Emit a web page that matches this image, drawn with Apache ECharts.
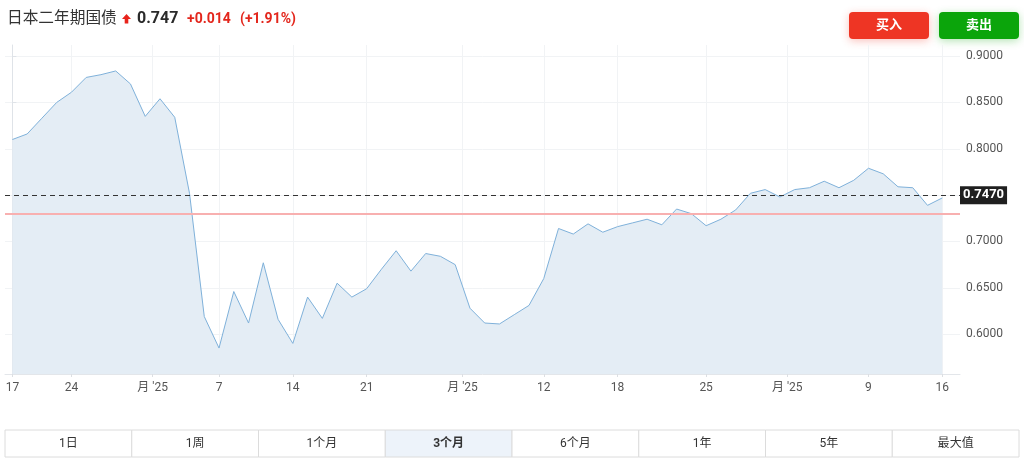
<!DOCTYPE html>
<html>
<head>
<meta charset="utf-8">
<script src="https://cdn.jsdelivr.net/npm/echarts@6/dist/echarts.min.js"></script>
<style>
html,body{margin:0;padding:0;background:#fff;}
#c{width:1024px;height:461px;}
</style>
</head>
<body>
<div id="c"></div>
<script>
// ---- data ----
const titleText = '日本二年期国债';
const lastPrice = '0.747';
const changeText = '+0.014';
const changePct = '(+1.91%)';
const values = [
  0.810, 0.816, 0.833, 0.850, 0.861, 0.877, 0.880, 0.884, 0.870, 0.835,
  0.854, 0.834, 0.752, 0.619, 0.585, 0.646, 0.612, 0.677, 0.616, 0.590,
  0.640, 0.617, 0.655, 0.640, 0.649, 0.670, 0.690, 0.668, 0.687, 0.684,
  0.675, 0.628, 0.612, 0.611, 0.621, 0.631, 0.660, 0.714, 0.708, 0.719,
  0.710, 0.716, 0.720, 0.724, 0.718, 0.735, 0.730, 0.717, 0.724, 0.734,
  0.752, 0.756, 0.748, 0.756, 0.758, 0.765, 0.758, 0.766, 0.779, 0.773,
  0.759, 0.758, 0.739, 0.747
];
const xTickPos = [0, 4, 9.5, 14, 19, 24, 30.5, 36, 41, 47, 52.5, 58, 63];
const xTickLabels = ['17', '24', "月 '25", '7', '14', '21', "月 '25", '12', '18', '25', "月 '25", '9', '16'];
const yTicks = [0.6, 0.65, 0.7, 0.75, 0.8, 0.85, 0.9];
const currentValue = 0.747;
const prevClose = 0.733;
const tabLabels = ['1日', '1周', '1个月', '3个月', '6个月', '1年', '5年', '最大值'];
const selectedTab = 3;

const FONT = 'Roboto, "Noto Sans CJK SC", sans-serif';
const seriesData = values.map((v, i) => [i, v]);

// tabs graphic
const tabLeft = 5, tabRight = 1019, tabTop = 430, tabH = 27;
const tabW = (tabRight - tabLeft) / tabLabels.length;
const tabGraphics = [];
tabLabels.forEach((t, i) => {
  tabGraphics.push({
    type: 'rect',
    shape: { x: tabLeft + i * tabW, y: tabTop, width: tabW, height: tabH },
    style: { fill: i === selectedTab ? '#edf3fa' : '#fff', stroke: '#dcdcdc', lineWidth: 1 },
    z: 10
  });
  tabGraphics.push({
    type: 'text',
    x: tabLeft + (i + 0.5) * tabW, y: tabTop + tabH / 2,
    style: {
      text: t, fill: '#333', font: (i === selectedTab ? 'bold ' : '') + '12px ' + FONT,
      align: 'center', verticalAlign: 'middle'
    },
    z: 11
  });
});

const chart = echarts.init(document.getElementById('c'), null, { renderer: 'canvas' });
chart.setOption({
  animation: false,
  backgroundColor: '#fff',
  grid: { left: 5, right: 64, top: 45, bottom: 87, containLabel: false },
  xAxis: {
    type: 'value',
    min: -0.5,
    max: 64.2,
    axisLine: { show: true, lineStyle: { color: '#e3e6ea', width: 1 } },
    axisTick: { show: true, length: 3, lineStyle: { color: '#dcdfe3' }, customValues: xTickPos },
    axisLabel: {
      customValues: xTickPos,
      color: '#555', fontSize: 12, fontFamily: FONT, margin: 8,
      formatter: function (v) {
        const k = xTickPos.findIndex(p => Math.abs(p - v) < 1e-6);
        return k >= 0 ? xTickLabels[k] : '';
      }
    },
    splitLine: { show: true, lineStyle: { color: '#f1f3f5', width: 1 } }
  },
  yAxis: {
    type: 'value',
    position: 'right',
    min: 0.557,
    max: 0.912,
    scale: true,
    axisLine: { show: true, lineStyle: { color: '#dfe3e8', width: 1 } },
    axisTick: { show: true, length: 4, lineStyle: { color: '#dfe3e8' }, customValues: yTicks },
    axisLabel: {
      customValues: yTicks,
      color: '#555', fontSize: 12, fontFamily: FONT, margin: 6,
      formatter: v => v.toFixed(4)
    },
    splitLine: { show: true, lineStyle: { color: '#f1f3f5', width: 1 } }
  },
  series: [{
    type: 'line',
    data: seriesData,
    symbol: 'none',
    lineStyle: { color: '#7fb1da', width: 1 },
    areaStyle: { color: '#e4edf5', opacity: 1 },
    z: 2,
    markLine: {
      symbol: 'none',
      silent: true,
      animation: false,
      data: [
        {
          yAxis: prevClose,
          lineStyle: { color: '#f8b0b0', width: 2, type: 'solid' },
          label: { show: false }
        },
        {
          yAxis: currentValue,
          lineStyle: { color: '#333', width: 1, type: [5, 4] },
          label: {
            show: true, position: 'end', distance: 0,
            formatter: currentValue.toFixed(4),
            color: '#fff', backgroundColor: '#1f1f1f',
            fontSize: 13, fontWeight: 'bold', fontFamily: FONT,
            padding: [3, 3, 2, 3]
          }
        }
      ]
    }
  }],
  graphic: [
    { type: 'text', x: 7, y: 19, style: { text: titleText, fill: '#333', font: '15.7px ' + FONT, verticalAlign: 'middle' } },
    { type: 'polygon', shape: { points: [[126.5, 14], [131, 19], [128.3, 19], [128.3, 23.5], [124.7, 23.5], [124.7, 19], [122, 19]] }, style: { fill: '#e8231b' } },
    { type: 'text', x: 137, y: 19, style: { text: lastPrice, fill: '#2a2a2a', font: 'bold 16px ' + FONT, verticalAlign: 'middle' } },
    { type: 'text', x: 187, y: 19, style: { text: changeText, fill: '#e3261c', font: 'bold 14px ' + FONT, verticalAlign: 'middle' } },
    { type: 'text', x: 240, y: 19, style: { text: changePct, fill: '#e3261c', font: 'bold 14px ' + FONT, verticalAlign: 'middle' } },
    { type: 'rect', shape: { x: 849, y: 12, width: 80, height: 27, r: 4 },
      style: { fill: '#ee3524', shadowBlur: 8, shadowColor: 'rgba(238,53,36,0.3)', shadowOffsetY: 2 } },
    { type: 'text', x: 889, y: 25.5, style: { text: '买入', fill: '#fff', font: 'bold 13px ' + FONT, align: 'center', verticalAlign: 'middle' } },
    { type: 'rect', shape: { x: 939, y: 12, width: 80, height: 27, r: 4 },
      style: { fill: '#0ba50b', shadowBlur: 8, shadowColor: 'rgba(11,165,11,0.3)', shadowOffsetY: 2 } },
    { type: 'text', x: 979, y: 25.5, style: { text: '卖出', fill: '#fff', font: 'bold 13px ' + FONT, align: 'center', verticalAlign: 'middle' } }
  ].concat(tabGraphics)
});
</script>
</body>
</html>
